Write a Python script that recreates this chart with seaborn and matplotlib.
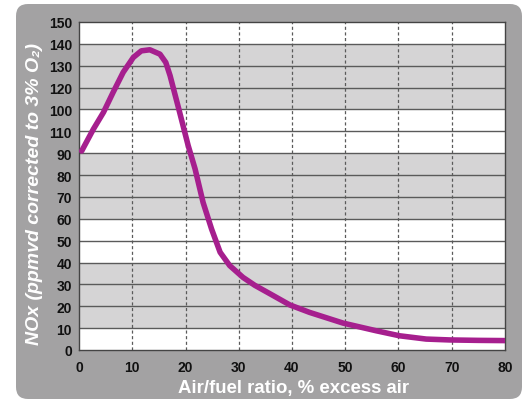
import matplotlib
matplotlib.use("Agg")
import matplotlib.pyplot as plt
from matplotlib.patches import FancyBboxPatch
import seaborn as sns
import pandas as pd

# Data
excess_air = [0.5, 2.7, 4.6, 6.4, 8.3, 10.2, 11.7, 13.3, 15.2, 16.3, 17.1, 18.9, 20.5,
              21.8, 23.3, 24.9, 26.5, 28.3, 30.8, 33.0, 35.8, 39.6, 43.3, 49.6, 55.8,
              60.2, 65.2, 69.6, 75, 80]
nox = [91, 101, 108.7, 117.8, 127, 133.8, 136.8, 137.3, 135.3, 131.5, 125.5, 108.7, 93.5,
       82.8, 67.5, 55.3, 44.7, 38.6, 33.2, 29.6, 25.8, 20.6, 17.2, 12.3, 8.8,
       6.5, 5.0, 4.6, 4.4, 4.3]
x_ticks = [0, 10, 20, 30, 40, 50, 60, 70, 80]
y_ticks = [0, 10, 20, 30, 40, 50, 60, 70, 80, 90, 100, 110, 120, 130, 140, 150]
y_tick_labels = ["0", "10", "20", "30", "40", "50", "60", "70", "80", "90",
                 "110", "100", "120", "130", "140", "150"]
gray_bands = [(10, 40), (60, 90), (110, 140)]
x_label = "Air/fuel ratio, % excess air"
y_label = "NOx (ppmvd corrected to 3% O\u2082)"

sns.set_theme(style="white")
plt.rcParams['font.family'] = ['Liberation Sans', 'DejaVu Sans']

fig = plt.figure(figsize=(5.24, 4.02), dpi=100)
fig.patch.set_facecolor("white")

# rounded gray panel
panel = FancyBboxPatch((0.16 + 0.12, 0.02 + 0.12), 5.06 - 0.24, 3.95 - 0.24,
                       boxstyle="round,pad=0.12", transform=fig.dpi_scale_trans,
                       facecolor="#a3a2a3", edgecolor="none", zorder=-10)
fig.patches.append(panel)

ax = fig.add_axes([79/524, 51/402, 426/524, 328/402])
ax.set_zorder(1)
ax.set_facecolor("white")
for lo, hi in gray_bands:
    ax.axhspan(lo, hi, color="#d5d4d5", zorder=0, lw=0)

for yv in y_ticks[1:-1]:
    ax.axhline(yv, color="#5a5a5a", lw=1.0, zorder=1)
for xv in x_ticks[1:-1]:
    ax.axvline(xv, color="#5a5a5a", lw=0.9, ls=(0, (2.5, 2)), zorder=1)

df = pd.DataFrame({"x": excess_air, "y": nox})
sns.lineplot(data=df, x="x", y="y", ax=ax, color="#a61f8e", lw=4.0, sort=False,
             solid_capstyle="round", solid_joinstyle="round", zorder=3)

ax.set_xlim(0, 80)
ax.set_ylim(0, 150)
ax.set_xticks(x_ticks)
ax.set_yticks(y_ticks)
ax.set_yticklabels(y_tick_labels)
ax.tick_params(axis="both", direction="out", length=4, width=1, color="#444444",
               labelsize=10, labelcolor="#111111", pad=2)
ax.tick_params(axis="y", pad=1)
ax.tick_params(axis="x", pad=3)
for lab in ax.get_xticklabels() + ax.get_yticklabels():
    lab.set_fontweight("bold")
for sp in ax.spines.values():
    sp.set_color("#444444")
    sp.set_linewidth(1.0)
    sp.set_visible(True)

ax.set_xlabel("")
ax.set_ylabel("")
fig.text(294/524, 1 - 389/402, x_label, color="white", fontsize=13.4, fontweight="bold",
         ha="center", va="center")
fig.text(35/524, 1 - 194/402, y_label, color="white", fontsize=14, fontweight="bold",
         style="italic", rotation=90, ha="center", va="center")

fig.savefig("out.png", dpi=100, facecolor="white")
